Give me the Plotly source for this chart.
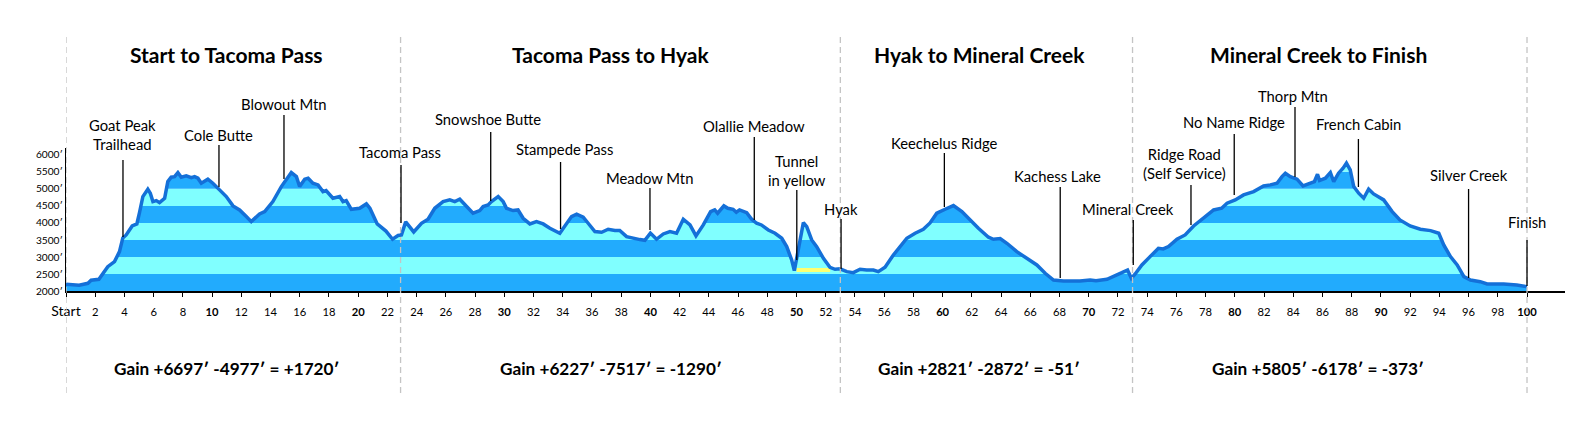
import plotly.graph_objects as go

# elevation profile (mile, feet)
miles = [0.0, 0.9, 1.5, 1.72, 2.25, 2.52, 2.86, 3.32, 3.66, 3.89, 4.12, 4.53, 4.85, 5.03, 5.26,
         5.6, 5.77, 5.95, 6.18, 6.4, 6.75, 6.97, 7.2, 7.43, 7.66, 7.89, 8.23, 8.58, 8.8, 9.03,
         9.26, 9.71, 10.05, 10.51, 10.97, 11.43, 11.88, 12.34, 12.68, 13.25, 13.6, 14.16, 14.74,
         15.42, 15.77, 15.99, 16.34, 16.57, 16.9, 17.25, 17.59, 17.8, 18.27, 18.73, 18.96, 19.18,
         19.53, 20.1, 20.56, 20.8, 21.3, 21.9, 22.35, 22.73, 22.96, 23.25, 23.8, 24.33, 24.78,
         25.24, 25.81, 26.27, 26.61, 26.95, 27.41, 27.86, 28.32, 28.55, 28.89, 29.12, 29.58,
         29.92, 30.15, 30.6, 30.94, 31.29, 31.75, 32.2, 32.66, 33.12, 33.8, 34.14, 34.6, 34.95,
         35.4, 35.74, 36.2, 36.66, 37.11, 37.57, 37.9, 38.37, 38.82, 39.28, 39.62, 40.0, 40.42,
         40.88, 41.34, 41.79, 42.25, 42.71, 43.12, 43.62, 44.12, 44.4, 44.6, 45.03, 45.3, 45.66,
         45.88, 46.1, 46.59, 46.93, 47.27, 47.6, 48.07, 48.53, 48.99, 49.33, 49.67, 49.85, 50.12,
         50.47, 50.7, 51.04, 51.38, 51.84, 52.29, 52.64, 52.98, 53.44, 53.89, 54.35, 54.8, 55.26,
         55.6, 56.06, 56.63, 57.08, 57.55, 58.12, 58.68, 59.14, 59.6, 60.17, 60.74, 61.32, 61.88,
         62.45, 63.14, 63.48, 63.94, 64.4, 65.08, 65.77, 66.45, 67.02, 67.59, 68.27, 69.4, 70.1,
         70.5, 71.25, 71.7, 72.27, 72.66, 72.92, 73.18, 73.64, 74.2, 74.77, 75.1, 75.46, 76.04,
         76.6, 77.18, 77.86, 78.55, 79.1, 79.47, 80.03, 80.6, 81.29, 81.97, 82.43, 82.89, 83.23,
         83.46, 83.8, 84.26, 84.67, 85.17, 85.45, 85.66, 85.8, 86.2, 86.54, 86.77, 87.1, 87.41,
         87.64, 87.9, 88.14, 88.48, 88.82, 89.16, 89.5, 90.19, 90.77, 91.3, 92.0, 92.7, 93.4,
         93.96, 94.3, 94.76, 95.22, 95.68, 96.13, 96.8, 97.27, 98.4, 99.3, 100.0]
elevation = [2200, 2170, 2226, 2315, 2344, 2520, 2715, 2862, 3156, 3560, 3646, 3911, 3970, 4302, 4773,
             4990, 4872, 4626, 4655, 4596, 4725, 5213, 5343, 5360, 5478, 5343, 5381, 5331, 5360, 5313,
             5166, 5284, 5166, 4970, 4773, 4500, 4381, 4185, 4038, 4264, 4332, 4626, 5067,
             5478, 5360, 5067, 5284, 5313, 5166, 5117, 4920, 4950, 4725, 4773, 4626, 4655,
             4400, 4430, 4558, 4430, 3970, 3760, 3520, 3630, 3646, 4030, 3735, 3990, 4108,
             4430, 4626, 4676, 4626, 4696, 4480, 4284, 4362, 4480, 4528, 4626, 4773,
             4626, 4430, 4362, 4380, 4137, 3970, 4038, 3970, 3843, 3696, 3891, 4185, 4255,
             4166, 3990, 3745, 3725, 3814, 3780, 3780, 3598, 3549, 3510, 3490, 3700, 3520,
             3676, 3745, 3696, 4108, 3940, 3617, 3940, 4332, 4381, 4284, 4500, 4430, 4400,
             4313, 4381, 4303, 4108, 3990, 3940, 3793, 3696, 3549, 3304, 2911, 2597, 3206,
             4010, 3891, 3500, 3304, 2960, 2696, 2638, 2650, 2568, 2538, 2638, 2617, 2617,
             2568, 2696, 3058, 3304, 3549, 3696, 3814, 4000, 4284, 4402, 4508, 4332, 4088,
             3843, 3579, 3520, 3540, 3402, 3156, 2960, 2765, 2520, 2323, 2294, 2294, 2323,
             2303, 2344, 2421, 2538, 2617, 2373, 2500, 2765, 3010, 3255, 3235, 3304, 3520,
             3646, 3911, 4137, 4381, 4430, 4578, 4676, 4822, 4920, 5087, 5117, 5166, 5360,
             5460, 5360, 5284, 5087, 5186, 5215, 5431, 5245, 5313, 5478, 5213, 5460, 5607,
             5754, 5557, 5067, 4872, 4725, 4990, 4852, 4676, 4332, 4088, 3911, 3814, 3773,
             3696, 3353, 3010, 2765, 2421, 2323, 2274, 2205, 2205, 2176, 2127]

# tunnel section drawn in yellow
tunnel_miles = [50.0, 52.3]
tunnel_elev = 2620

landmarks = ["Goat Peak<br>Trailhead", "Cole Butte", "Blowout Mtn", "Tacoma Pass", "Snowshoe Butte",
             "Stampede Pass", "Meadow Mtn", "Olallie Meadow", "Tunnel<br>in yellow", "Hyak",
             "Keechelus Ridge", "Kachess Lake", "Mineral Creek", "Ridge Road<br>(Self Service)",
             "No Name Ridge", "Thorp Mtn", "French Cabin", "Silver Creek", "Finish"]
landmark_miles = [3.9, 10.47, 14.92, 22.93, 29.07, 33.85, 39.97, 47.11, 50.02, 53.05,
                  60.12, 68.05, 73.05, 77.0, 79.96, 84.12, 88.46, 96.0, 100.0]

sections = ["Start to Tacoma Pass", "Tacoma Pass to Hyak", "Hyak to Mineral Creek", "Mineral Creek to Finish"]
section_breaks = [0, 22.9, 53, 73, 100]
gain_up = [6697, 6227, 2821, 5805]
gain_down = [4977, 7517, 2872, 6178]

elev_ticks = [2000, 2500, 3000, 3500, 4000, 4500, 5000, 5500, 6000]
mile_ticks = list(range(0, 101, 2))

# label layout, in window pixels: text centre, leader top, leader bottom, text x shift
label_text_y = [134.5, 135, 104, 152, 119, 149, 178, 126, 170, 209,
                143, 176, 209, 163.5, 122, 96, 124, 175, 222]
leader_top = [160, 145, 115, 165, 132, 162, 188, 137, 190, 219,
              153, 187, 220, 185, 134, 107, 139, 189, 240]
leader_bottom = [237, 187, 179, 223, 201, 229, 230, 220, 260, 269,
                 207, 278, 265, 225, 195, 177, 187, 278, 286]
label_dx = [0, 0, 0, -1, -3, 4, 0, 0, 0, 0, 0, -3, -5, -6, 0, -2, 0, 0, 0]
section_x = [11.0, 37.3, 62.5, 85.7]

FONT = "Lato"
DARK = "#22abfd"
LIGHT = "#80ffff"
LINE = "#1470d8"
YTOP = 6200
PLOT_BOTTOM, PLOT_H = 291, 143   # window pixels of the plot area


def ypaper(py):
    return (PLOT_BOTTOM - py) / PLOT_H


fig = go.Figure()

# stripes under the profile
for i in range(len(elev_ticks) - 1):
    fig.add_shape(type="rect", xref="x", yref="y", layer="below",
                  x0=miles[0], x1=miles[-1], y0=elev_ticks[i], y1=elev_ticks[i + 1],
                  fillcolor=DARK if i % 2 == 0 else LIGHT, line_width=0)

# white mask above the profile
fig.add_trace(go.Scatter(x=miles, y=elevation, mode="lines", line=dict(width=0),
                         hoverinfo="skip", showlegend=False))
fig.add_trace(go.Scatter(x=miles, y=[YTOP] * len(miles), mode="lines", line=dict(width=0),
                         fill="tonexty", fillcolor="white", hoverinfo="skip", showlegend=False))

fig.add_trace(go.Scatter(x=tunnel_miles, y=[tunnel_elev] * 2, mode="lines",
                         line=dict(color="#ffff70", width=4), hoverinfo="skip", showlegend=False))

fig.add_trace(go.Scatter(x=miles, y=elevation, mode="lines",
                         line=dict(color=LINE, width=3.5), showlegend=False))

# section dividers
for m in section_breaks:
    fig.add_shape(type="line", xref="x", yref="paper", x0=m, x1=m, y0=ypaper(393), y1=ypaper(37),
                  line=dict(color="#c4c4c4", width=1.3, dash="6px,4px"), layer="above")

# landmark labels with leader lines
for i, name in enumerate(landmarks):
    m = landmark_miles[i]
    fig.add_shape(type="line", xref="x", yref="paper", x0=m, x1=m,
                  y0=ypaper(leader_bottom[i]), y1=ypaper(leader_top[i]),
                  line=dict(color="black", width=1.3), layer="above")
    fig.add_annotation(x=m, y=ypaper(label_text_y[i]), xref="x", yref="paper", xshift=label_dx[i],
                       xanchor="center", yanchor="middle", text=name, showarrow=False,
                       font=dict(family=FONT, size=14.8, color="black"))

for name, x, up, down in zip(sections, section_x, gain_up, gain_down):
    net = up - down
    fig.add_annotation(x=x, y=ypaper(55), xref="x", yref="paper", yanchor="middle",
                       text="<b>%s</b>" % name, showarrow=False,
                       font=dict(family=FONT, size=21, color="black"))
    fig.add_annotation(x=x, y=ypaper(368), xref="x", yref="paper", yanchor="middle",
                       text="<b>Gain +%d\u2032 -%d\u2032 = %s%d\u2032</b>" % (up, down, "+" if net > 0 else "-", abs(net)),
                       showarrow=False, font=dict(family=FONT, size=17.2, color="black"))

ticktext = []
for m in mile_ticks:
    if m == 0:
        ticktext.append("<span style='font-size:14px'>Start</span>")
    elif m % 10 == 0:
        ticktext.append("<b>%d</b>" % m)
    else:
        ticktext.append(str(m))

fig.update_xaxes(range=[0, 102.6], tickvals=mile_ticks, ticktext=ticktext, showgrid=False,
                 zeroline=False, showline=True, linecolor="black", linewidth=1.5,
                 ticks="outside", ticklen=4, tickwidth=1, tickcolor="black", automargin=False,
                 ticklabelstandoff=6, tickfont=dict(family=FONT, size=11.2, color="black"))
fig.update_yaxes(range=[2000, YTOP], tickvals=elev_ticks, ticktext=["%d\u2032" % v for v in elev_ticks],
                 showgrid=False, zeroline=False, showline=True, linecolor="black", linewidth=1.2,
                 ticks="", automargin=False, tickfont=dict(family=FONT, size=10.2, color="black"))

# page body adds an 8px margin, so the figure is 16px smaller than the window
fig.update_layout(width=1565, height=407, margin=dict(l=58, r=8, t=140, b=124),
                  plot_bgcolor="white", paper_bgcolor="white", showlegend=False,
                  font=dict(family=FONT))

fig.write_html("out.html")
